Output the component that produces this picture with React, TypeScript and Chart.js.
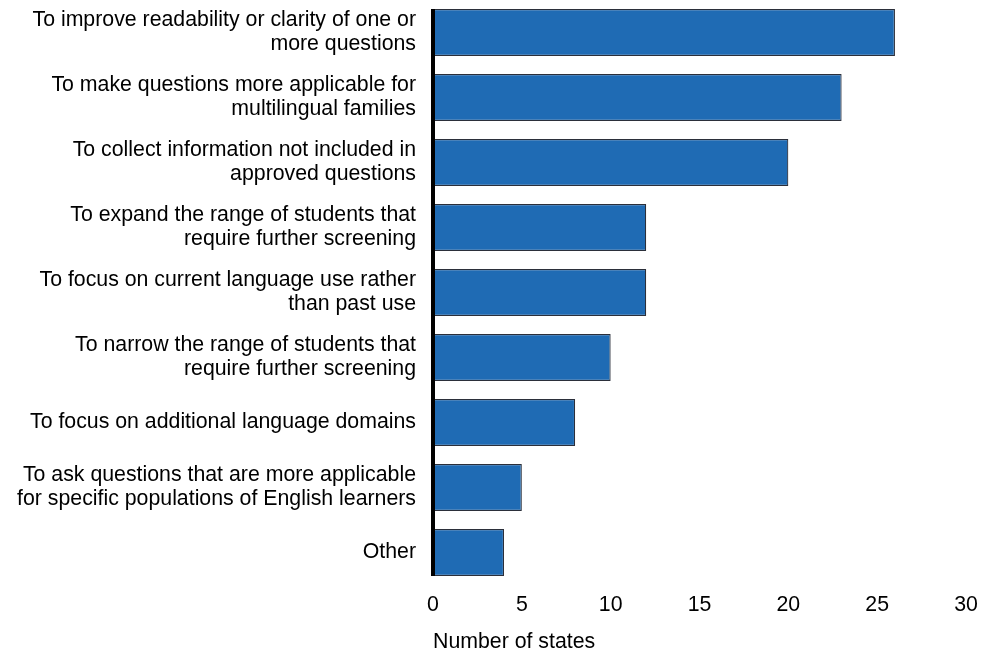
import React, { useEffect, useRef } from "react";
import { Chart, registerables } from "chart.js";

Chart.register(...registerables);

const categories: string[][] = [
  ["To improve readability or clarity of one or", "more questions"],
  ["To make questions more applicable for", "multilingual families"],
  ["To collect information not included in", "approved questions"],
  ["To expand the range of students that", "require further screening"],
  ["To focus on current language use rather", "than past use"],
  ["To narrow the range of students that", "require further screening"],
  ["To focus on additional language domains"],
  ["To ask questions that are more applicable", "for specific populations of English learners"],
  ["Other"],
];

const values: number[] = [26, 23, 20, 12, 12, 10, 8, 5, 4];

const xTitle = "Number of states";

const FONT = "'Liberation Sans', Arial, sans-serif";

const axisLinePlugin = {
  id: "axisLine",
  afterDatasetsDraw(chart: any) {
    const meta = chart.getDatasetMeta(0);
    if (!meta || !meta.data.length) return;
    const first = meta.data[0];
    const last = meta.data[meta.data.length - 1];
    const x0 = chart.scales.x.getPixelForValue(0);
    const top = first.y - first.height / 2;
    const bottom = last.y + last.height / 2;
    const ctx = chart.ctx;
    ctx.save();
    ctx.strokeStyle = "#000";
    ctx.lineWidth = 4;
    ctx.beginPath();
    ctx.moveTo(x0, top);
    ctx.lineTo(x0, bottom);
    ctx.stroke();
    ctx.restore();
  },
};

export default function App() {
  const ref = useRef<HTMLCanvasElement | null>(null);

  useEffect(() => {
    if (!ref.current) return;
    const chart = new Chart(ref.current, {
      type: "bar",
      data: {
        labels: categories,
        datasets: [
          {
            data: values,
            backgroundColor: "#1f6bb4",
            borderColor: "#2b2f3a",
            borderWidth: 1.2,
            barPercentage: 0.72,
            categoryPercentage: 1,
          },
        ],
      },
      options: {
        indexAxis: "y",
        animation: false,
        responsive: false,
        maintainAspectRatio: false,
        layout: { padding: { top: 0, right: 18, left: 0, bottom: 0 } },
        plugins: {
          legend: { display: false },
          tooltip: { enabled: false },
        },
        scales: {
          x: {
            min: 0,
            max: 30,
            ticks: {
              stepSize: 5,
              color: "#000",
              font: { family: FONT, size: 21.3 },
              padding: 7,
              maxRotation: 0,
            },
            grid: { display: false, drawTicks: false },
            border: { display: false },
            title: {
              display: true,
              text: xTitle,
              align: "start",
              color: "#000",
              font: { family: FONT, size: 21.3 },
              padding: { top: 0, bottom: -2 },
            },
            afterFit: (s: any) => {
              s.height = 68;
              s.paddingLeft = 0;
              s.paddingRight = 0;
            },
          },
          y: {
            ticks: {
              color: "#000",
              font: { family: FONT, size: 21.3, lineHeight: 1.13 },
              padding: 17,
            },
            grid: { display: false, drawTicks: false },
            border: { display: false },
            afterFit: (s: any) => {
              s.width = 433;
              s.paddingTop = 0;
              s.paddingBottom = 0;
            },
          },
        },
      },
      plugins: [axisLinePlugin],
    });
    return () => chart.destroy();
  }, []);

  return (
    <div style={{ position: "absolute", left: 0, top: 0, width: 984, height: 653, background: "#fff" }}>
      <canvas ref={ref} width={984} height={653} style={{ width: 984, height: 653 }} />
    </div>
  );
}
